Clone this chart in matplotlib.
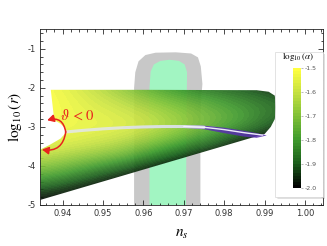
import numpy as np
import matplotlib
matplotlib.use("Agg")
import matplotlib.pyplot as plt
from matplotlib.patches import Polygon, FancyArrowPatch, Rectangle
from matplotlib.colors import LinearSegmentedColormap, Normalize
from matplotlib.ticker import MultipleLocator
import matplotlib.colorbar as mcolorbar

plt.rcParams['axes.unicode_minus'] = False
plt.rcParams['mathtext.fontset'] = 'stix'

# ---------------- data ----------------
ns_grid = [0.935, 0.945, 0.955, 0.965, 0.975, 0.985, 0.995]
logr_grid = [-5.0, -4.75, -4.5, -4.25, -4.0, -3.75, -3.5, -3.25, -3.0, -2.75, -2.5, -2.25, -2.0]
log_alpha = [
    [-2.00, -2.00, -2.00, -2.00, -2.00, -2.00, -2.00],
    [-1.96, -2.00, -2.00, -2.00, -2.00, -2.00, -2.00],
    [-1.86, -1.97, -2.00, -2.00, -2.00, -2.00, -2.00],
    [-1.76, -1.86, -1.98, -2.00, -2.00, -2.00, -2.00],
    [-1.68, -1.76, -1.86, -2.00, -2.00, -2.00, -2.00],
    [-1.61, -1.67, -1.73, -1.88, -2.00, -2.00, -2.00],
    [-1.56, -1.60, -1.65, -1.76, -1.90, -2.00, -2.00],
    [-1.53, -1.56, -1.59, -1.67, -1.79, -1.95, -2.00],
    [-1.52, -1.54, -1.56, -1.62, -1.73, -1.83, -1.97],
    [-1.51, -1.54, -1.57, -1.63, -1.72, -1.80, -1.92],
    [-1.50, -1.55, -1.60, -1.67, -1.75, -1.82, -1.90],
    [-1.50, -1.56, -1.64, -1.73, -1.80, -1.86, -1.93],
    [-1.50, -1.58, -1.68, -1.79, -1.87, -1.92, -1.97],
]

# allowed region outline (ns, log10 r)
region_ns = [0.9371, 0.9600, 0.9880, 0.9910, 0.9925, 0.9928, 0.9925, 0.9915, 0.9905, 0.9900,
             0.9345, 0.9345, 0.9370, 0.9395, 0.9408, 0.9405, 0.9395, 0.9380, 0.9379]
region_lr = [-2.05, -2.05, -2.06, -2.10, -2.20, -2.50, -2.80, -3.00, -3.12, -3.18,
             -4.87, -3.58, -3.45, -3.30, -3.15, -3.02, -2.92, -2.83, -2.78]

# white (theta = 0) line
line_ns = [0.9408, 0.945, 0.950, 0.955, 0.960, 0.965, 0.970, 0.975, 0.980, 0.985, 0.9895]
line_lr = [-3.13, -3.09, -3.05, -3.02, -3.00, -2.99, -2.99, -3.01, -3.07, -3.15, -3.21]

# lavender / purple bands
lav_ns = [0.955, 0.962, 0.968, 0.974, 0.978, 0.976, 0.970, 0.964, 0.958, 0.955]
lav_lr = [-3.00, -2.97, -2.96, -2.96, -3.00, -3.05, -3.03, -3.03, -3.04, -3.04]
band_ns = [0.970, 0.975, 0.980, 0.985, 0.9895, 0.9905, 0.9880, 0.9850, 0.9800, 0.9750, 0.9700]
band_lr = [-2.97, -2.97, -3.02, -3.10, -3.19, -3.22, -3.28, -3.25, -3.16, -3.06, -3.02]

# Planck contours
outer_ns = [0.9577, 0.9577, 0.9580, 0.9588, 0.9605, 0.9630, 0.9680, 0.9718, 0.9735, 0.9742,
            0.9746, 0.9742, 0.9741, 0.9741]
outer_lr = [-5.5, -2.0, -1.60, -1.32, -1.16, -1.10, -1.09, -1.12, -1.22, -1.45,
            -1.90, -2.40, -3.00, -5.5]
inner_ns = [0.9615, 0.9615, 0.9618, 0.9626, 0.9642, 0.9665, 0.9688, 0.9702, 0.9708, 0.9707, 0.9705]
inner_lr = [-5.5, -2.0, -1.58, -1.40, -1.31, -1.28, -1.31, -1.40, -1.60, -2.50, -5.5]

cbar_ticks = [-2.0, -1.9, -1.8, -1.7, -1.6, -1.5]

# ---------------- figure ----------------
fig = plt.figure(figsize=(3.27, 2.46), dpi=100)
ax = fig.add_axes([0.1232, 0.1667, 0.8655, 0.7143])

cmap = LinearSegmentedColormap.from_list(
    'alpha', [(0.0, '#000000'), (0.1, '#0d2e0d'), (0.2, '#1b5e1b'), (0.4, '#3f9a2c'),
              (0.6, '#7fc036'), (0.8, '#c4e040'), (1.0, '#ffff40')], N=40)
norm = Normalize(-2.0, -1.5)

ax.add_patch(Polygon(list(zip(outer_ns, outer_lr)), closed=True, facecolor='#c8c8c8',
                     edgecolor='none', zorder=1))
ax.add_patch(Polygon(list(zip(inner_ns, inner_lr)), closed=True, facecolor='#a2f5c2',
                     edgecolor='none', zorder=1.1))

dns = ns_grid[1] - ns_grid[0]
dlr = logr_grid[1] - logr_grid[0]
im = ax.imshow(np.array(log_alpha), origin='lower', cmap=cmap, norm=norm,
               extent=[ns_grid[0] - dns / 2, ns_grid[-1] + dns / 2,
                       logr_grid[0] - dlr / 2, logr_grid[-1] + dlr / 2],
               aspect='auto', interpolation='bicubic', alpha=0.92, zorder=2)
clip = Polygon(list(zip(region_ns, region_lr)), closed=True, facecolor='none',
               edgecolor='none', transform=ax.transData)
ax.add_patch(clip)
im.set_clip_path(clip)

ax.add_patch(Polygon(list(zip(lav_ns, lav_lr)), closed=True, facecolor='#a8a8e8',
                     edgecolor='none', alpha=0.55, zorder=3))
ax.add_patch(Polygon(list(zip(band_ns, band_lr)), closed=True, facecolor='#5a30b0',
                     edgecolor='none', alpha=0.85, zorder=3.1))
ax.plot(line_ns[:8], line_lr[:8], color='#e2e6ec', lw=2.2, alpha=0.85, zorder=4,
        solid_capstyle='round')
ax.plot(line_ns[6:], line_lr[6:], color='#f4f4ff', lw=1.0, alpha=0.95, zorder=4,
        solid_capstyle='round')

# red arrows
mid = (line_ns[0], line_lr[0])
for tip, rad in [((0.9362, -2.83), 0.55), ((0.9349, -3.58), -0.5)]:
    ax.add_patch(FancyArrowPatch(mid, tip, connectionstyle=f'arc3,rad={rad}',
                                 arrowstyle='-|>,head_length=4,head_width=2.2',
                                 shrinkA=0, shrinkB=0,
                                 color='#e8231e', lw=1.1, zorder=5))
ax.text(0.9394, -2.70, r'$\vartheta\,<\,0$', color='#e8231e', fontsize=10.5, zorder=6,
        va='center')

ax.set_xlim(0.9345, 1.0045)
ax.set_ylim(-5.0, -0.5)
ax.set_xticks([0.94, 0.95, 0.96, 0.97, 0.98, 0.99, 1.00])
ax.set_xticklabels(['0.94', '0.95', '0.96', '0.97', '0.98', '0.99', '1.00'])
ax.set_yticks([-5, -4, -3, -2, -1])
ax.set_yticklabels(['-5', '-4', '-3', '-2', '-1'])
ax.xaxis.set_minor_locator(MultipleLocator(0.002))
ax.yaxis.set_minor_locator(MultipleLocator(0.2))
ax.tick_params(which='both', direction='in', top=True, right=True, labelsize=6,
               labelcolor='#333333', width=0.5, pad=3)
ax.tick_params(which='major', length=3.5)
ax.tick_params(which='minor', length=1.8)
for s in ax.spines.values():
    s.set_linewidth(0.6)
    s.set_color('#222222')

ax.set_xlabel(r'$n_s$', fontsize=11, labelpad=6)
ax.set_ylabel(r'$\log_{10}(r)$', fontsize=11, labelpad=3)

# legend box with shadow
bx0, by0, bw, bh = 0.841, 0.2004, 0.146, 0.5894
for i, a in enumerate([0.10, 0.12, 0.15]):
    off = 0.008 - i * 0.0025
    fig.patches.append(Rectangle((bx0 + off, by0 - off * 1.33), bw, bh, transform=fig.transFigure,
                                 facecolor='#707070', edgecolor='none', alpha=a, zorder=8))
fig.patches.append(Rectangle((bx0, by0), bw, bh, transform=fig.transFigure,
                             facecolor='white', edgecolor='#d8d8d8', lw=0.5, zorder=9))

cax = fig.add_axes([0.895, 0.2346, 0.0245, 0.490], zorder=10)
cb = mcolorbar.ColorbarBase(cax, cmap=cmap, norm=norm, ticks=cbar_ticks)
cb.outline.set_visible(False)
cb.set_ticklabels(['-2.0', '-1.9', '-1.8', '-1.7', '-1.6', '-1.5'])
cax.tick_params(labelsize=4.5, labelcolor='#555555', length=1.5, width=0.4, pad=1.5,
                color='#888888')
fig.text(0.912, 0.767, r'$\log_{10}(\alpha)$', fontsize=6.5, ha='center', va='center',
         zorder=11)

fig.savefig('out.png', dpi=100)
